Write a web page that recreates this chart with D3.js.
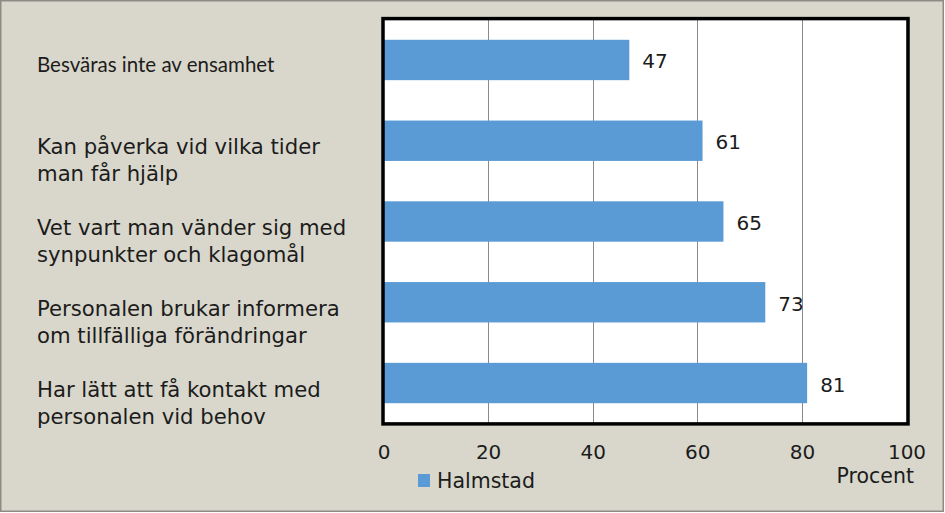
<!DOCTYPE html>
<html>
<head>
<meta charset="utf-8">
<script src="https://cdn.jsdelivr.net/npm/d3@7"></script>
<style>
  body { margin: 0; background: #fff; }
  svg { display: block; }
</style>
</head>
<body>
<svg id="chart" width="945" height="513"></svg>
<script>
// data
const categories = [
  "Besväras inte av ensamhet",
  "Kan påverka vid vilka tider man får hjälp",
  "Vet vart man vänder sig med synpunkter och klagomål",
  "Personalen brukar informera om tillfälliga förändringar",
  "Har lätt att få kontakt med personalen vid behov"
];
const labelLines = [
  ["Besväras inte av ensamhet"],
  ["Kan påverka vid vilka tider", "man får hjälp"],
  ["Vet vart man vänder sig med", "synpunkter och klagomål"],
  ["Personalen brukar informera", "om tillfälliga förändringar"],
  ["Har lätt att få kontakt med", "personalen vid behov"]
];
const halmstad = [47, 61, 65, 73, 81];
const xTicks = [0, 20, 40, 60, 80, 100];
const seriesName = "Halmstad";
const axisTitle = "Procent";

const width = 945, height = 513;
const plot = { left: 383.5, right: 906.5, top: 19.6, bottom: 423.4 };
const font = "'DejaVu Sans', sans-serif";
const textColor = "#1c1c1c";
const barColor = "#5b9bd5";

const svg = d3.select("#chart");

// outer background
svg.append("rect")
  .attr("x", 0.75).attr("y", 0.75)
  .attr("width", width - 2.5).attr("height", height - 2.5)
  .attr("fill", "#d9d7cb")
  .attr("stroke", "#8c8c84")
  .attr("stroke-width", 1.5);

const x = d3.scaleLinear()
  .domain([0, 100])
  .range([plot.left, plot.right]);

const y = d3.scaleBand()
  .domain(categories)
  .range([plot.top, plot.bottom])
  .paddingInner(0.5)
  .paddingOuter(0.25);

// plot area
svg.append("rect")
  .attr("x", plot.left).attr("y", plot.top)
  .attr("width", plot.right - plot.left)
  .attr("height", plot.bottom - plot.top)
  .attr("fill", "#fff");

// gridlines
svg.append("g")
  .selectAll("line")
  .data(xTicks.slice(1, -1))
  .join("line")
  .attr("x1", d => Math.round(x(d)) + 0.5)
  .attr("x2", d => Math.round(x(d)) + 0.5)
  .attr("y1", plot.top)
  .attr("y2", plot.bottom)
  .attr("stroke", "#8a8a8a")
  .attr("stroke-width", 1);

// bars
svg.append("g")
  .selectAll("rect")
  .data(halmstad)
  .join("rect")
  .attr("x", x(0))
  .attr("y", (d, i) => y(categories[i]))
  .attr("width", d => x(d) - x(0))
  .attr("height", y.bandwidth())
  .attr("fill", barColor);

// value labels
svg.append("g")
  .selectAll("text")
  .data(halmstad)
  .join("text")
  .attr("x", d => x(d) + 13)
  .attr("y", (d, i) => y(categories[i]) + y.bandwidth() / 2 + 8.5)
  .attr("font-family", font)
  .attr("font-size", 20)
  .attr("fill", textColor)
  .text(d => d);

// plot border
svg.append("rect")
  .attr("x", plot.left - 0.5).attr("y", plot.top - 1)
  .attr("width", plot.right - plot.left + 2)
  .attr("height", plot.bottom - plot.top + 1.5)
  .attr("fill", "none")
  .attr("stroke", "#000")
  .attr("stroke-width", 3.5);

// category labels
const labels = svg.append("g")
  .selectAll("text")
  .data(labelLines)
  .join("text")
  .attr("fill", textColor)
  .attr("font-family", (d, i) => i === 0 ? "Lato, 'Open Sans', sans-serif" : font)
  .attr("font-size", (d, i) => i === 0 ? 20.5 : 21.2)
  .attr("y", (d, i) => y(categories[i]) + y.bandwidth() / 2);

labels.selectAll("tspan")
  .data(d => d)
  .join("tspan")
  .attr("x", 37)
  .attr("dy", (d, j, nodes) => nodes.length === 1 ? 12 : (j === 0 ? 13.5 : 27))
  .text(d => d);

// x axis
const xAxis = svg.append("g")
  .attr("transform", `translate(0,${plot.bottom})`)
  .call(d3.axisBottom(x).tickValues(xTicks).tickSize(0).tickPadding(21));
xAxis.select(".domain").remove();
xAxis.selectAll("text")
  .attr("font-family", font)
  .attr("font-size", 20)
  .attr("fill", textColor);

// axis title
svg.append("text")
  .attr("x", 914).attr("y", 483)
  .attr("text-anchor", "end")
  .attr("font-family", font)
  .attr("font-size", 20.5)
  .attr("fill", textColor)
  .text(axisTitle);

// legend
const legend = svg.append("g").attr("transform", "translate(418,474)");
legend.append("rect")
  .attr("width", 12).attr("height", 13)
  .attr("fill", barColor);
legend.append("text")
  .attr("x", 19).attr("y", 14)
  .attr("font-family", font)
  .attr("font-size", 20.5)
  .attr("fill", textColor)
  .text(seriesName);
</script>
</body>
</html>
